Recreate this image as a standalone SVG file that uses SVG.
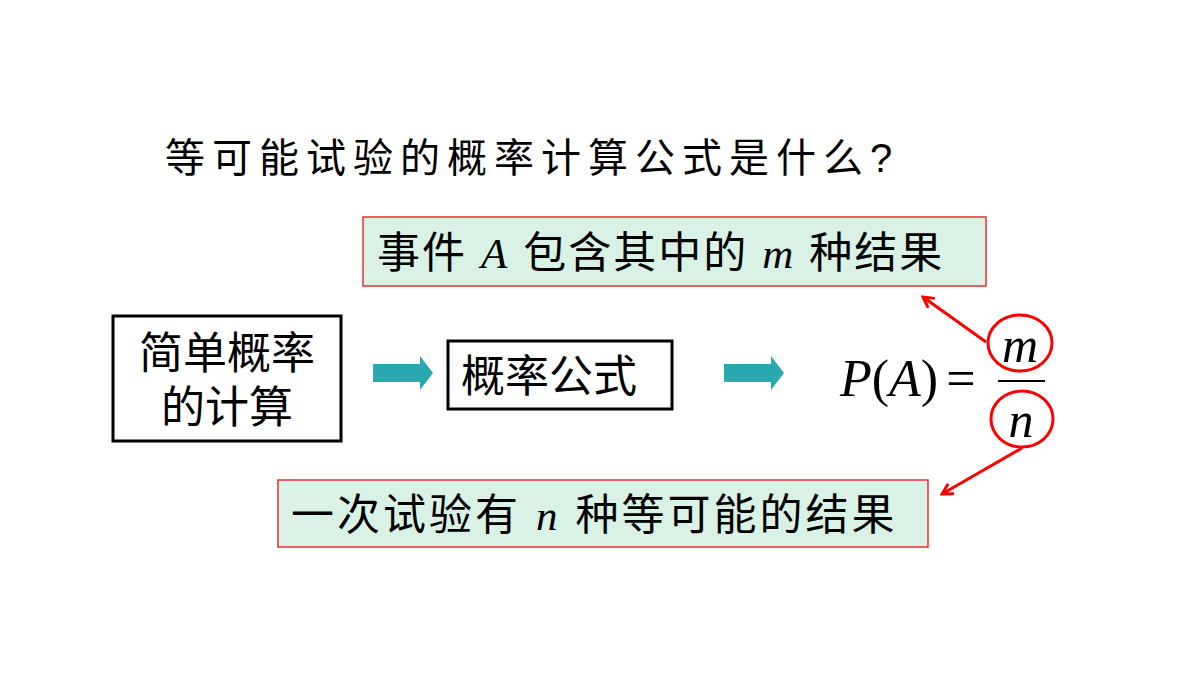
<svg xmlns="http://www.w3.org/2000/svg" width="1200" height="675" viewBox="0 0 1200 675">
<style>
.cn{font-family:"Liberation Sans","Noto Sans CJK SC",sans-serif;fill:#000}
.it{font-family:"Liberation Serif",serif;font-style:italic;fill:#000}
.rm{font-family:"Liberation Serif",serif;fill:#000}
.box{fill:#fff;stroke:#000;stroke-width:3}
.gb{fill:#daf2e5;stroke:#e53030;stroke-width:1.5}
.red{fill:none;stroke:#f00;stroke-width:3}
.teal{fill:#2aa8b0}
</style>
<defs><marker id="ah" markerWidth="14" markerHeight="14" refX="10" refY="6" orient="auto" markerUnits="userSpaceOnUse" viewBox="0 0 12 12"><path d="M1,1 L10,6 L1,11" fill="none" stroke="#f00" stroke-width="2.5"/></marker></defs>
<rect width="1200" height="675" fill="#fff"/>
<text class="cn" x="165" y="172" font-size="40" letter-spacing="7">等可能试验的概率计算公式是什么?</text>
<g id="top"><rect class="gb" x="363" y="217" width="623" height="69"/>
<text x="377" y="268" font-size="43" letter-spacing="2"><tspan class="cn">事件 </tspan><tspan class="it">A</tspan><tspan class="cn"> 包含其中的 </tspan><tspan class="it">m</tspan><tspan class="cn"> 种结果</tspan></text></g>
<g id="bottom"><rect class="gb" x="278" y="480" width="650" height="67"/>
<text x="291" y="530" font-size="43" letter-spacing="3"><tspan class="cn">一次试验有 </tspan><tspan class="it">n</tspan><tspan class="cn"> 种等可能的结果</tspan></text></g>
<g id="simple"><rect class="box" x="113" y="316" width="228" height="125"/>
<text class="cn" x="227" y="369" font-size="44" text-anchor="middle">简单概率</text>
<text class="cn" x="227" y="423" font-size="44" text-anchor="middle">的计算</text></g>
<g id="formula"><rect class="box" x="448" y="341" width="224" height="68"/>
<text class="cn" x="461" y="392" font-size="44">概率公式</text></g>
<g id="pa"><text x="840" y="396" font-size="52"><tspan class="it">P</tspan><tspan class="rm">(</tspan><tspan class="it">A</tspan><tspan class="rm">)</tspan><tspan class="rm" dx="8">=</tspan></text>
<line x1="998" y1="381" x2="1045" y2="381" stroke="#000" stroke-width="2"/>
<text class="it" x="1020" y="362" font-size="50" text-anchor="middle">m</text>
<text class="it" x="1021" y="437" font-size="50" text-anchor="middle">n</text></g>
<g id="connectors">
<path class="teal" d="M373,364 H420 V356 L433,373 L420,390 V382 H373 Z"/>
<path class="teal" d="M724,364 H771 V356 L784,373 L771,390 V382 H724 Z"/>
<ellipse class="red" cx="1020" cy="343" rx="32" ry="28"/>
<ellipse class="red" cx="1022" cy="419" rx="31" ry="28"/>
<line class="red" x1="986" y1="342" x2="923" y2="297" marker-end="url(#ah)"/>
<line class="red" x1="1022" y1="448" x2="942" y2="494" marker-end="url(#ah)"/>
</g>
</svg>
